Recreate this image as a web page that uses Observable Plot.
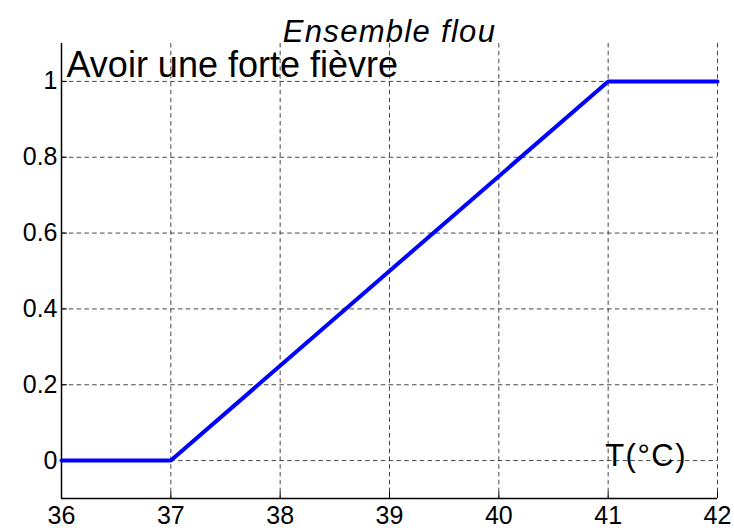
<!DOCTYPE html>
<html>
<head>
<meta charset="utf-8">
<script src="https://cdn.jsdelivr.net/npm/d3@7"></script>
<script src="https://cdn.jsdelivr.net/npm/@observablehq/plot@0.6"></script>
<style>
  html, body { margin: 0; padding: 0; background: #fff; }
  #chart svg { display: block; }
</style>
</head>
<body>
<div id="chart"></div>
<script>
const temps = [36, 37, 41, 42];
const membership = [0, 0, 1, 1];
const xTicks = [36, 37, 38, 39, 40, 41, 42];
const yTicks = [0, 0.2, 0.4, 0.6, 0.8, 1];
const yTickLabels = ["0", "0.2", "0.4", "0.6", "0.8", "1"];
const titleText = "Ensemble flou";
const setLabel = "Avoir une forte fièvre";
const axisLabel = "T(°C)";

const data = temps.map((t, i) => ({t, m: membership[i]}));
const xDomain = [36, 42];
const yDomain = [-0.1, 1.1];
const font = "Liberation Sans, Arial, Helvetica, sans-serif";
const dash = "4.5,3.3";
// inward tick length expressed as fraction of each domain (~6px)
const xTickLen = (yDomain[1] - yDomain[0]) * 0.014;
const yTickLen = (xDomain[1] - xDomain[0]) * 0.009;

const chart = Plot.plot({
  width: 734,
  height: 528,
  marginLeft: 61,
  marginRight: 17,
  marginTop: 43,
  marginBottom: 30,
  style: {fontFamily: font, background: "#fff", color: "#000"},
  x: {type: "linear", domain: xDomain, label: null},
  y: {type: "linear", domain: yDomain, label: null},
  marks: [
    Plot.gridX(xTicks, {stroke: "#333", strokeOpacity: 0.9, strokeDasharray: dash}),
    Plot.gridY(yTicks, {stroke: "#333", strokeOpacity: 0.9, strokeDasharray: dash}),
    Plot.axisX(xTicks, {tickSize: 0, tickPadding: 8, fontSize: 25, tickFormat: d => String(d), fill: "#000", label: null}),
    Plot.axisY(yTicks, {tickSize: 0, tickPadding: 4, fontSize: 25, tickFormat: (d, i) => yTickLabels[i], fill: "#000", label: null}),
    Plot.ruleX(xTicks, {x: d => d, y1: yDomain[0], y2: yDomain[0] + xTickLen, stroke: "#000", strokeWidth: 1}),
    Plot.ruleY(yTicks, {y: d => d, x1: xDomain[0], x2: xDomain[0] + yTickLen, stroke: "#000", strokeWidth: 1}),
    Plot.ruleX([xDomain[0]], {stroke: "#000", strokeWidth: 1.5}),
    Plot.ruleY([yDomain[0]], {stroke: "#000", strokeWidth: 1.5}),
    Plot.line(data, {x: "t", y: "m", stroke: "#0000ff", strokeWidth: 4}),
    Plot.text([titleText], {frameAnchor: "top", dy: -24, fontSize: 31, fontStyle: "italic", fill: "#000", text: d => d}),
    Plot.text([setLabel], {x: xDomain[0], y: 1, dx: 5, dy: -16, textAnchor: "start", fontSize: 36, fill: "#000", text: d => d}),
    Plot.text([axisLabel], {x: 41, y: 0, dx: -3, dy: -5, textAnchor: "start", fontSize: 31, fill: "#000", text: d => d})
  ]
});
d3.select(chart).selectAll("text").each(function() {
  const t = this.textContent;
  if (t === titleText) d3.select(this).style("letter-spacing", "1.3px");
  if (t === axisLabel) d3.select(this).style("letter-spacing", "1.5px");
});
document.getElementById("chart").appendChild(chart);
</script>
</body>
</html>
